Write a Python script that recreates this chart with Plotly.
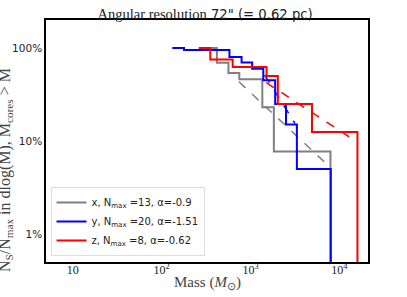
import plotly.graph_objects as go

# ---- data ----
# step CDFs: masses (Msun) at which the count of cores above changes, and counts
x_mass = [324, 419, 565, 749, 1359, 1833, 7943]
x_count = [13, 9, 7, 6, 3, 1, 0]
x_nmax = 13
x_alpha = -0.9
x_fit_m = [741, 7603]
x_fit_f = [0.434, 0.0538]

y_mass = [132, 179, 580, 794, 1045, 1393, 1896, 2512, 3326, 8000]
y_count = [20, 19, 16, 14, 12, 9, 5, 3, 1, 0]
y_nmax = 20
y_alpha = -1.51
y_fit_m = [1443, 3162]
y_fit_f = [0.512, 0.155]

z_mass = [262, 353, 631, 1517, 2032, 4920, 15970]
z_count = [8, 6, 5, 4, 2, 1, 0]
z_nmax = 8
z_alpha = -0.62
z_fit_m = [1506, 15060]
z_fit_f = [0.424, 0.1007]

x_ticks = [10, 100, 1000, 10000]
x_ticktext = ["10", "10<sup>2</sup>", "10<sup>3</sup>", "10<sup>4</sup>"]
y_ticks = [0.01, 0.1, 1.0]
y_ticktext = ["1%", "10%", "100%"]

FLOOR = 1e-4  # zero count drawn below the axis on log scale

series = [
    ("x", x_mass, x_count, x_nmax, x_alpha, x_fit_m, x_fit_f, "#808080"),
    ("y", y_mass, y_count, y_nmax, y_alpha, y_fit_m, y_fit_f, "#0000ff"),
    ("z", z_mass, z_count, z_nmax, z_alpha, z_fit_m, z_fit_f, "#ff0000"),
]

fig = go.Figure()
for name, m, c, n, a, fm, ff, col in series:
    frac = [(k / n) if k > 0 else FLOOR for k in c]
    fig.add_trace(go.Scatter(
        x=m, y=frac, mode="lines", line=dict(color=col, width=2, shape="hv"),
        name=f"{name}, N<sub>max</sub> ={n}, α={a}", showlegend=True))
    fig.add_trace(go.Scatter(
        x=fm, y=ff, mode="lines", line=dict(color=col, width=1.5, dash="dash"),
        showlegend=False))

serif = "Liberation Serif"
sans = "DejaVu Sans"

fig.update_layout(
    width=407, height=297,
    margin=dict(l=42, r=39, t=20, b=35),
    plot_bgcolor="white", paper_bgcolor="white",
    title=dict(
        text=f"<span style='font-family:{serif};font-size:14.5px'>Angular resolution</span> 72\" (= 0.62 pc)",
        x=0.504, xanchor="center", y=0.95, yanchor="middle",
        font=dict(family=sans, size=13.2, color="#222")),
    xaxis=dict(
        type="log", range=[0.7, 4.322], tickvals=x_ticks, ticktext=x_ticktext,
        ticks="", showgrid=False, zeroline=False,
        showline=True, linecolor="black", linewidth=1.5, mirror=True,
        ticklabelstandoff=-4,
        tickfont=dict(family=serif, size=12, color="#222")),
    yaxis=dict(
        type="log", range=[-2.301, 0.301], tickvals=y_ticks, ticktext=y_ticktext,
        ticks="", showgrid=False, zeroline=False,
        showline=True, linecolor="black", linewidth=1.5, mirror=True,
        tickfont=dict(family=sans, size=10.5, color="#222")),
    legend=dict(
        x=0.014, y=0.025, xanchor="left", yanchor="bottom",
        bgcolor="white", bordercolor="#dddddd", borderwidth=1,
        font=dict(family=sans, size=10, color="#222"),
        tracegroupgap=0, itemwidth=30),
    annotations=[
        dict(text="N<sub>S</sub>/N<sub>max</sub> in dlog(M), M<sub>cores</sub> > M",
             textangle=-90, xref="paper", yref="paper", x=-0.126, y=0.382,
             xanchor="center", yanchor="middle", showarrow=False,
             font=dict(family=serif, size=16, color="#444")),
        dict(text="Mass (<i>M</i><sub>⊙</sub>)",
             xref="paper", yref="paper", x=0.5, y=-0.087,
             xanchor="center", yanchor="middle", showarrow=False,
             font=dict(family=serif, size=15, color="#444")),
    ],
)

fig.write_html(
    "out.html",
    config={"displayModeBar": False},
    post_script="document.body.style.margin='0';document.body.style.overflow='hidden';",
)
